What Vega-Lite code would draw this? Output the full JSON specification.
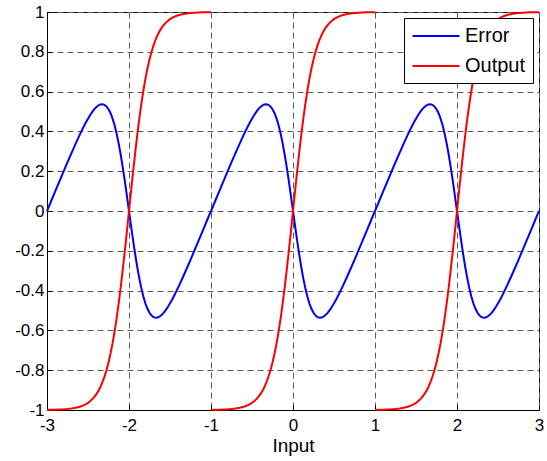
{
"$schema": "https://vega.github.io/schema/vega-lite/v6.json",
"width": 492,
"height": 398,
"autosize": {"type": "none"},
"padding": {"left": 47, "top": 12, "right": 8, "bottom": 51},
"background": "white",
"config": {
  "font": "Liberation Sans",
  "view": {"stroke": "black", "strokeWidth": 1},
  "axis": {
    "domainColor": "black",
    "tickColor": "black",
    "tickSize": -5,
    "labelColor": "black",
    "labelFont": "Liberation Sans",
    "labelFontSize": 17,
    "titleFont": "Liberation Sans",
    "titleFontSize": 19,
    "titleFontWeight": "normal",
    "titleColor": "black",
    "grid": true,
    "gridColor": "#5a5a5a",
    "gridDash": [6, 4],
    "gridWidth": 1
  }
},
"data": {"values": [
{"x":-3,"g":1,"Error":-0.0007,"Output":-0.9993},
{"x":-2.95,"g":1,"Error":0.049,"Output":-0.999},
{"x":-2.9,"g":1,"Error":0.0985,"Output":-0.9985},
{"x":-2.85,"g":1,"Error":0.1478,"Output":-0.9978},
{"x":-2.8,"g":1,"Error":0.1967,"Output":-0.9967},
{"x":-2.75,"g":1,"Error":0.2451,"Output":-0.9951},
{"x":-2.7,"g":1,"Error":0.2926,"Output":-0.9926},
{"x":-2.65,"g":1,"Error":0.339,"Output":-0.989},
{"x":-2.6,"g":1,"Error":0.3837,"Output":-0.9837},
{"x":-2.575,"g":1,"Error":0.4051,"Output":-0.9801},
{"x":-2.55,"g":1,"Error":0.4257,"Output":-0.9757},
{"x":-2.525,"g":1,"Error":0.4455,"Output":-0.9705},
{"x":-2.5,"g":1,"Error":0.464,"Output":-0.964},
{"x":-2.475,"g":1,"Error":0.4812,"Output":-0.9562},
{"x":-2.45,"g":1,"Error":0.4968,"Output":-0.9468},
{"x":-2.425,"g":1,"Error":0.5104,"Output":-0.9354},
{"x":-2.4,"g":1,"Error":0.5217,"Output":-0.9217},
{"x":-2.375,"g":1,"Error":0.5302,"Output":-0.9052},
{"x":-2.35,"g":1,"Error":0.5354,"Output":-0.8854},
{"x":-2.325,"g":1,"Error":0.5367,"Output":-0.8617},
{"x":-2.3,"g":1,"Error":0.5337,"Output":-0.8337},
{"x":-2.275,"g":1,"Error":0.5255,"Output":-0.8005},
{"x":-2.25,"g":1,"Error":0.5116,"Output":-0.7616},
{"x":-2.225,"g":1,"Error":0.4913,"Output":-0.7163},
{"x":-2.2,"g":1,"Error":0.464,"Output":-0.664},
{"x":-2.175,"g":1,"Error":0.4294,"Output":-0.6044},
{"x":-2.15,"g":1,"Error":0.3871,"Output":-0.5371},
{"x":-2.125,"g":1,"Error":0.3371,"Output":-0.4621},
{"x":-2.1,"g":1,"Error":0.28,"Output":-0.38},
{"x":-2.075,"g":1,"Error":0.2163,"Output":-0.2913},
{"x":-2.05,"g":1,"Error":0.1474,"Output":-0.1974},
{"x":-2.025,"g":1,"Error":0.0747,"Output":-0.0997},
{"x":-2,"g":1,"Error":0,"Output":0},
{"x":-1.975,"g":1,"Error":-0.0747,"Output":0.0997},
{"x":-1.95,"g":1,"Error":-0.1474,"Output":0.1974},
{"x":-1.925,"g":1,"Error":-0.2163,"Output":0.2913},
{"x":-1.9,"g":1,"Error":-0.28,"Output":0.38},
{"x":-1.875,"g":1,"Error":-0.3371,"Output":0.4621},
{"x":-1.85,"g":1,"Error":-0.3871,"Output":0.5371},
{"x":-1.825,"g":1,"Error":-0.4294,"Output":0.6044},
{"x":-1.8,"g":1,"Error":-0.464,"Output":0.664},
{"x":-1.775,"g":1,"Error":-0.4913,"Output":0.7163},
{"x":-1.75,"g":1,"Error":-0.5116,"Output":0.7616},
{"x":-1.725,"g":1,"Error":-0.5255,"Output":0.8005},
{"x":-1.7,"g":1,"Error":-0.5337,"Output":0.8337},
{"x":-1.675,"g":1,"Error":-0.5367,"Output":0.8617},
{"x":-1.65,"g":1,"Error":-0.5354,"Output":0.8854},
{"x":-1.625,"g":1,"Error":-0.5302,"Output":0.9052},
{"x":-1.6,"g":1,"Error":-0.5217,"Output":0.9217},
{"x":-1.575,"g":1,"Error":-0.5104,"Output":0.9354},
{"x":-1.55,"g":1,"Error":-0.4968,"Output":0.9468},
{"x":-1.525,"g":1,"Error":-0.4812,"Output":0.9562},
{"x":-1.5,"g":1,"Error":-0.464,"Output":0.964},
{"x":-1.475,"g":1,"Error":-0.4455,"Output":0.9705},
{"x":-1.45,"g":1,"Error":-0.4257,"Output":0.9757},
{"x":-1.425,"g":1,"Error":-0.4051,"Output":0.9801},
{"x":-1.4,"g":1,"Error":-0.3837,"Output":0.9837},
{"x":-1.35,"g":1,"Error":-0.339,"Output":0.989},
{"x":-1.3,"g":1,"Error":-0.2926,"Output":0.9926},
{"x":-1.25,"g":1,"Error":-0.2451,"Output":0.9951},
{"x":-1.2,"g":1,"Error":-0.1967,"Output":0.9967},
{"x":-1.15,"g":1,"Error":-0.1478,"Output":0.9978},
{"x":-1.1,"g":1,"Error":-0.0985,"Output":0.9985},
{"x":-1.05,"g":1,"Error":-0.049,"Output":0.999},
{"x":-1,"g":1,"Error":0.0007,"Output":0.9993},
{"x":-1,"g":2,"Error":-0.0007,"Output":-0.9993},
{"x":-0.95,"g":2,"Error":0.049,"Output":-0.999},
{"x":-0.9,"g":2,"Error":0.0985,"Output":-0.9985},
{"x":-0.85,"g":2,"Error":0.1478,"Output":-0.9978},
{"x":-0.8,"g":2,"Error":0.1967,"Output":-0.9967},
{"x":-0.75,"g":2,"Error":0.2451,"Output":-0.9951},
{"x":-0.7,"g":2,"Error":0.2926,"Output":-0.9926},
{"x":-0.65,"g":2,"Error":0.339,"Output":-0.989},
{"x":-0.6,"g":2,"Error":0.3837,"Output":-0.9837},
{"x":-0.575,"g":2,"Error":0.4051,"Output":-0.9801},
{"x":-0.55,"g":2,"Error":0.4257,"Output":-0.9757},
{"x":-0.525,"g":2,"Error":0.4455,"Output":-0.9705},
{"x":-0.5,"g":2,"Error":0.464,"Output":-0.964},
{"x":-0.475,"g":2,"Error":0.4812,"Output":-0.9562},
{"x":-0.45,"g":2,"Error":0.4968,"Output":-0.9468},
{"x":-0.425,"g":2,"Error":0.5104,"Output":-0.9354},
{"x":-0.4,"g":2,"Error":0.5217,"Output":-0.9217},
{"x":-0.375,"g":2,"Error":0.5302,"Output":-0.9052},
{"x":-0.35,"g":2,"Error":0.5354,"Output":-0.8854},
{"x":-0.325,"g":2,"Error":0.5367,"Output":-0.8617},
{"x":-0.3,"g":2,"Error":0.5337,"Output":-0.8337},
{"x":-0.275,"g":2,"Error":0.5255,"Output":-0.8005},
{"x":-0.25,"g":2,"Error":0.5116,"Output":-0.7616},
{"x":-0.225,"g":2,"Error":0.4913,"Output":-0.7163},
{"x":-0.2,"g":2,"Error":0.464,"Output":-0.664},
{"x":-0.175,"g":2,"Error":0.4294,"Output":-0.6044},
{"x":-0.15,"g":2,"Error":0.3871,"Output":-0.5371},
{"x":-0.125,"g":2,"Error":0.3371,"Output":-0.4621},
{"x":-0.1,"g":2,"Error":0.28,"Output":-0.38},
{"x":-0.075,"g":2,"Error":0.2163,"Output":-0.2913},
{"x":-0.05,"g":2,"Error":0.1474,"Output":-0.1974},
{"x":-0.025,"g":2,"Error":0.0747,"Output":-0.0997},
{"x":0,"g":2,"Error":0,"Output":0},
{"x":0.025,"g":2,"Error":-0.0747,"Output":0.0997},
{"x":0.05,"g":2,"Error":-0.1474,"Output":0.1974},
{"x":0.075,"g":2,"Error":-0.2163,"Output":0.2913},
{"x":0.1,"g":2,"Error":-0.28,"Output":0.38},
{"x":0.125,"g":2,"Error":-0.3371,"Output":0.4621},
{"x":0.15,"g":2,"Error":-0.3871,"Output":0.5371},
{"x":0.175,"g":2,"Error":-0.4294,"Output":0.6044},
{"x":0.2,"g":2,"Error":-0.464,"Output":0.664},
{"x":0.225,"g":2,"Error":-0.4913,"Output":0.7163},
{"x":0.25,"g":2,"Error":-0.5116,"Output":0.7616},
{"x":0.275,"g":2,"Error":-0.5255,"Output":0.8005},
{"x":0.3,"g":2,"Error":-0.5337,"Output":0.8337},
{"x":0.325,"g":2,"Error":-0.5367,"Output":0.8617},
{"x":0.35,"g":2,"Error":-0.5354,"Output":0.8854},
{"x":0.375,"g":2,"Error":-0.5302,"Output":0.9052},
{"x":0.4,"g":2,"Error":-0.5217,"Output":0.9217},
{"x":0.425,"g":2,"Error":-0.5104,"Output":0.9354},
{"x":0.45,"g":2,"Error":-0.4968,"Output":0.9468},
{"x":0.475,"g":2,"Error":-0.4812,"Output":0.9562},
{"x":0.5,"g":2,"Error":-0.464,"Output":0.964},
{"x":0.525,"g":2,"Error":-0.4455,"Output":0.9705},
{"x":0.55,"g":2,"Error":-0.4257,"Output":0.9757},
{"x":0.575,"g":2,"Error":-0.4051,"Output":0.9801},
{"x":0.6,"g":2,"Error":-0.3837,"Output":0.9837},
{"x":0.65,"g":2,"Error":-0.339,"Output":0.989},
{"x":0.7,"g":2,"Error":-0.2926,"Output":0.9926},
{"x":0.75,"g":2,"Error":-0.2451,"Output":0.9951},
{"x":0.8,"g":2,"Error":-0.1967,"Output":0.9967},
{"x":0.85,"g":2,"Error":-0.1478,"Output":0.9978},
{"x":0.9,"g":2,"Error":-0.0985,"Output":0.9985},
{"x":0.95,"g":2,"Error":-0.049,"Output":0.999},
{"x":1,"g":2,"Error":0.0007,"Output":0.9993},
{"x":1,"g":3,"Error":-0.0007,"Output":-0.9993},
{"x":1.05,"g":3,"Error":0.049,"Output":-0.999},
{"x":1.1,"g":3,"Error":0.0985,"Output":-0.9985},
{"x":1.15,"g":3,"Error":0.1478,"Output":-0.9978},
{"x":1.2,"g":3,"Error":0.1967,"Output":-0.9967},
{"x":1.25,"g":3,"Error":0.2451,"Output":-0.9951},
{"x":1.3,"g":3,"Error":0.2926,"Output":-0.9926},
{"x":1.35,"g":3,"Error":0.339,"Output":-0.989},
{"x":1.4,"g":3,"Error":0.3837,"Output":-0.9837},
{"x":1.425,"g":3,"Error":0.4051,"Output":-0.9801},
{"x":1.45,"g":3,"Error":0.4257,"Output":-0.9757},
{"x":1.475,"g":3,"Error":0.4455,"Output":-0.9705},
{"x":1.5,"g":3,"Error":0.464,"Output":-0.964},
{"x":1.525,"g":3,"Error":0.4812,"Output":-0.9562},
{"x":1.55,"g":3,"Error":0.4968,"Output":-0.9468},
{"x":1.575,"g":3,"Error":0.5104,"Output":-0.9354},
{"x":1.6,"g":3,"Error":0.5217,"Output":-0.9217},
{"x":1.625,"g":3,"Error":0.5302,"Output":-0.9052},
{"x":1.65,"g":3,"Error":0.5354,"Output":-0.8854},
{"x":1.675,"g":3,"Error":0.5367,"Output":-0.8617},
{"x":1.7,"g":3,"Error":0.5337,"Output":-0.8337},
{"x":1.725,"g":3,"Error":0.5255,"Output":-0.8005},
{"x":1.75,"g":3,"Error":0.5116,"Output":-0.7616},
{"x":1.775,"g":3,"Error":0.4913,"Output":-0.7163},
{"x":1.8,"g":3,"Error":0.464,"Output":-0.664},
{"x":1.825,"g":3,"Error":0.4294,"Output":-0.6044},
{"x":1.85,"g":3,"Error":0.3871,"Output":-0.5371},
{"x":1.875,"g":3,"Error":0.3371,"Output":-0.4621},
{"x":1.9,"g":3,"Error":0.28,"Output":-0.38},
{"x":1.925,"g":3,"Error":0.2163,"Output":-0.2913},
{"x":1.95,"g":3,"Error":0.1474,"Output":-0.1974},
{"x":1.975,"g":3,"Error":0.0747,"Output":-0.0997},
{"x":2,"g":3,"Error":0,"Output":0},
{"x":2.025,"g":3,"Error":-0.0747,"Output":0.0997},
{"x":2.05,"g":3,"Error":-0.1474,"Output":0.1974},
{"x":2.075,"g":3,"Error":-0.2163,"Output":0.2913},
{"x":2.1,"g":3,"Error":-0.28,"Output":0.38},
{"x":2.125,"g":3,"Error":-0.3371,"Output":0.4621},
{"x":2.15,"g":3,"Error":-0.3871,"Output":0.5371},
{"x":2.175,"g":3,"Error":-0.4294,"Output":0.6044},
{"x":2.2,"g":3,"Error":-0.464,"Output":0.664},
{"x":2.225,"g":3,"Error":-0.4913,"Output":0.7163},
{"x":2.25,"g":3,"Error":-0.5116,"Output":0.7616},
{"x":2.275,"g":3,"Error":-0.5255,"Output":0.8005},
{"x":2.3,"g":3,"Error":-0.5337,"Output":0.8337},
{"x":2.325,"g":3,"Error":-0.5367,"Output":0.8617},
{"x":2.35,"g":3,"Error":-0.5354,"Output":0.8854},
{"x":2.375,"g":3,"Error":-0.5302,"Output":0.9052},
{"x":2.4,"g":3,"Error":-0.5217,"Output":0.9217},
{"x":2.425,"g":3,"Error":-0.5104,"Output":0.9354},
{"x":2.45,"g":3,"Error":-0.4968,"Output":0.9468},
{"x":2.475,"g":3,"Error":-0.4812,"Output":0.9562},
{"x":2.5,"g":3,"Error":-0.464,"Output":0.964},
{"x":2.525,"g":3,"Error":-0.4455,"Output":0.9705},
{"x":2.55,"g":3,"Error":-0.4257,"Output":0.9757},
{"x":2.575,"g":3,"Error":-0.4051,"Output":0.9801},
{"x":2.6,"g":3,"Error":-0.3837,"Output":0.9837},
{"x":2.65,"g":3,"Error":-0.339,"Output":0.989},
{"x":2.7,"g":3,"Error":-0.2926,"Output":0.9926},
{"x":2.75,"g":3,"Error":-0.2451,"Output":0.9951},
{"x":2.8,"g":3,"Error":-0.1967,"Output":0.9967},
{"x":2.85,"g":3,"Error":-0.1478,"Output":0.9978},
{"x":2.9,"g":3,"Error":-0.0985,"Output":0.9985},
{"x":2.95,"g":3,"Error":-0.049,"Output":0.999},
{"x":3,"g":3,"Error":0.0007,"Output":0.9993}
]},
"transform": [{"fold": ["Error", "Output"], "as": ["series", "value"]}],
"mark": {"type": "line", "strokeWidth": 2},
"encoding": {
  "x": {"field": "x", "type": "quantitative",
        "scale": {"domain": [-3, 3], "nice": false, "zero": false},
        "axis": {"values": [-3, -2, -1, 0, 1, 2, 3], "title": "Input", "labelExpr": "'' + datum.value", "labelPadding": 12, "titlePadding": 3, "labelFlush": false}},
  "y": {"field": "value", "type": "quantitative",
        "scale": {"domain": [-1, 1], "nice": false, "zero": false},
        "axis": {"values": [-1, -0.8, -0.6, -0.4, -0.2, 0, 0.2, 0.4, 0.6, 0.8, 1], "title": null, "labelExpr": "'' + datum.value", "labelPadding": 8, "labelFlush": false}},
  "color": {"field": "series", "type": "nominal",
            "scale": {"domain": ["Error", "Output"], "range": ["#0000ff", "#ff0000"]},
            "legend": {"title": null, "orient": "top-right", "offset": 6,
                       "strokeColor": "black", "fillColor": "white", "padding": 7,
                       "symbolType": "M-2.35,0H2.35", "symbolStrokeWidth": 2, "symbolSize": 400,
                       "symbolFillColor": "transparent",
                       "symbolOffset": 14,
                       "labelFontSize": 20, "labelFont": "Liberation Sans", "labelColor": "black",
                       "labelOffset": 18, "rowPadding": 9, "cornerRadius": 0}},
  "detail": {"field": "g", "type": "nominal"}
}
}
